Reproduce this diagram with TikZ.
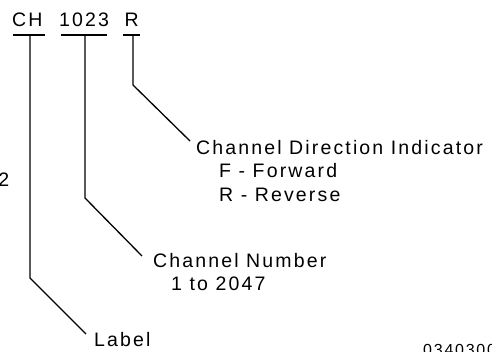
\documentclass[tikz,border=0pt]{standalone}
\usepackage{fontspec}
\setmainfont{Liberation Sans}[LetterSpace=11]
\begin{document}
\begin{tikzpicture}[x=1pt,y=-1pt,
  txt/.style={inner sep=0pt,anchor=base west,font=\fontsize{19.5}{23}\selectfont},
  rule/.style={line width=1.3pt},
  lead/.style={line width=1.3pt,line join=miter}]
\useasboundingbox (0,0) rectangle (492,351);
\clip (0,0) rectangle (492,351);
% code parts
\node[txt] (ch) at (12,26) {CH};
\node[txt] (num) at (59,26) {1023};
\node[txt] (dir) at (124.5,26) {R};
% underlines
\coordinate (chL) at (13,35);   \coordinate (chR) at (45,35);
\coordinate (numL) at (61,35);  \coordinate (numR) at (107,35);
\coordinate (dirL) at (123,35); \coordinate (dirR) at (140,35);
\draw[rule] (chL) -- (chR);
\draw[rule] (numL) -- (numR);
\draw[rule] (dirL) -- (dirR);
% explanation texts
\node[txt] (lab) at (94,346) {Label};
\node[txt] (cn) at (153,267) {Channel Number};
\node[txt] (cnr) at (171,290) {1 to 2047};
\node[txt] (cdi) at (196,154) {Channel Direction Indicator};
\node[txt] (fwd) at (219,177.5) {F - Forward};
\node[txt] (rev) at (219,201) {R - Reverse};
% leader lines
\coordinate (chT) at (30,35);   \coordinate (chB) at (30,278);  \coordinate (chE) at (86,334);
\coordinate (numT) at (85,35);  \coordinate (numB) at (85,198); \coordinate (numE) at (142,256);
\coordinate (dirT) at (133,35); \coordinate (dirB) at (133,85); \coordinate (dirE) at (190,141);
\draw[lead] (chT) -- (chB) -- (chE);
\draw[lead] (numT) -- (numB) -- (numE);
\draw[lead] (dirT) -- (dirB) -- (dirE);
% cropped fragments at the edges
\node[txt,anchor=base east] (edge2) at (9.5,186.5) {2};
\node[inner sep=0pt,anchor=base west,font=\fontsize{16}{19}\selectfont] (fig) at (423,355.5) {0340300};
\end{tikzpicture}
\end{document}
